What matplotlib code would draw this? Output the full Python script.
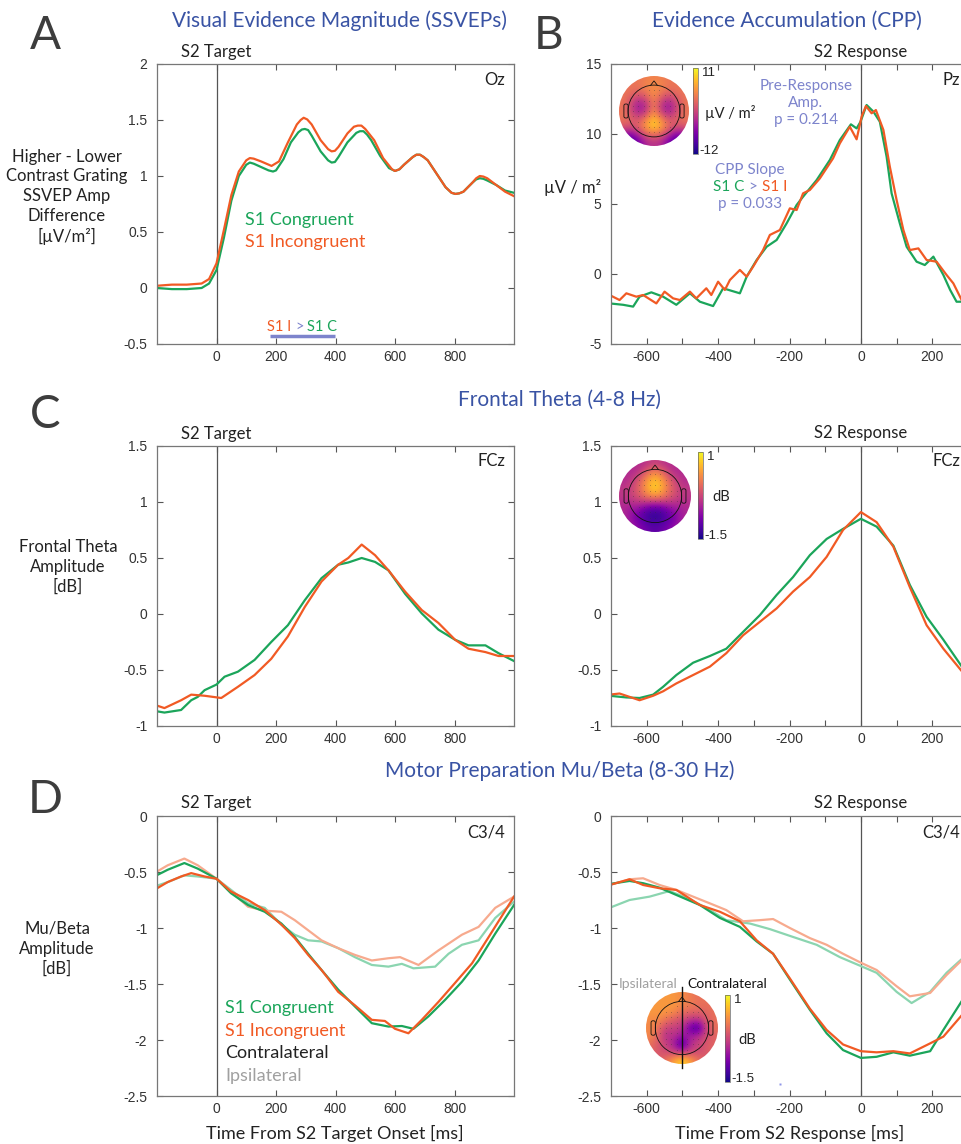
import numpy as np
import matplotlib
matplotlib.use("Agg")
import matplotlib.pyplot as plt
from matplotlib.patches import Circle, Polygon, FancyBboxPatch
from matplotlib.offsetbox import TextArea, HPacker, AnnotationBbox

plt.rcParams['font.family'] = ['Lato', 'DejaVu Sans']
plt.rcParams['axes.unicode_minus'] = False

# ---------------- DATA ----------------
# Panel A: SSVEP (time from S2 target onset)
a_t_con = [-200, -150, -100, -50, -25, 0, 25, 50, 75, 100, 112, 125, 150, 175, 190, 200, 225, 250, 275, 287,
           297, 308, 320, 350, 375, 387, 398, 410, 440, 470, 482, 494, 506, 520, 550, 580, 600, 615, 630, 660,
           672, 684, 696, 710, 740, 770, 790, 803, 816, 830, 860, 873, 885, 897, 910, 940, 970, 1000]
a_v_con = [0.00, -0.01, -0.01, 0.00, 0.04, 0.16, 0.45, 0.78, 1.00, 1.10, 1.12, 1.11, 1.08, 1.05, 1.04, 1.05,
           1.15, 1.30, 1.39, 1.415, 1.42, 1.41, 1.36, 1.22, 1.14, 1.12, 1.125, 1.17, 1.30, 1.385, 1.40, 1.40,
           1.37, 1.32, 1.18, 1.07, 1.045, 1.06, 1.10, 1.17, 1.19, 1.19, 1.17, 1.14, 1.02, 0.90, 0.85, 0.84,
           0.845, 0.86, 0.94, 0.97, 0.98, 0.975, 0.96, 0.92, 0.87, 0.85]
a_t_inc = [-200, -150, -100, -50, -25, 0, 25, 50, 75, 100, 112, 125, 150, 185, 210, 240, 270, 283, 293, 305,
           320, 350, 375, 387, 398, 410, 440, 462, 475, 487, 500, 530, 560, 590, 600, 615, 630, 660, 672, 684,
           696, 710, 740, 770, 790, 803, 816, 830, 860, 873, 885, 897, 910, 940, 970, 1000]
a_v_inc = [0.02, 0.03, 0.03, 0.04, 0.08, 0.22, 0.52, 0.83, 1.04, 1.14, 1.16, 1.155, 1.13, 1.09, 1.13, 1.30,
           1.46, 1.50, 1.52, 1.505, 1.46, 1.32, 1.24, 1.22, 1.225, 1.26, 1.38, 1.44, 1.45, 1.45, 1.42, 1.32,
           1.16, 1.06, 1.045, 1.06, 1.10, 1.17, 1.19, 1.19, 1.17, 1.14, 1.02, 0.90, 0.85, 0.84, 0.845, 0.86,
           0.94, 0.98, 1.00, 0.995, 0.98, 0.92, 0.86, 0.82]
a_sig = [180, 398]

# Panel B: CPP (time from S2 response)
b_t_con = [-704, -666, -638, -620, -587, -554, -517, -479, -451, -414, -386, -339, -320, -292, -264, -236,
           -208, -180, -162, -124, -87, -59, -28, -12, -1, 16, 35, 53, 72, 86, 109, 128, 156, 179, 203, 231,
           250, 268, 285]
b_v_con = [-2.10, -2.20, -2.33, -1.62, -1.31, -1.62, -2.20, -1.38, -1.98, -2.29, -1.02, -1.38, -0.19, 1.00,
           1.95, 2.43, 3.62, 4.93, 5.52, 6.71, 8.14, 9.57, 10.69, 10.40, 10.88, 12.07, 11.60, 10.88, 8.38,
           5.76, 3.62, 1.95, 0.88, 0.64, 1.24, -0.07, -1.14, -1.98, -1.98]
b_t_inc = [-704, -676, -657, -629, -610, -573, -550, -526, -507, -479, -461, -433, -419, -400, -381, -367,
           -339, -320, -302, -274, -255, -227, -199, -180, -162, -143, -115, -78, -59, -31, -12, 2, 14, 30, 42,
           63, 81, 100, 119, 137, 161, 184, 212, 240, 259, 285]
b_v_inc = [-1.50, -1.86, -1.38, -1.62, -1.50, -2.10, -1.26, -1.74, -1.86, -1.26, -1.74, -1.02, -1.50, -0.55,
           -1.14, -0.43, 0.29, -0.19, 0.52, 1.71, 2.79, 3.14, 4.69, 4.57, 5.76, 6.00, 6.83, 8.26, 9.33, 10.52,
           9.62, 11.24, 12.00, 11.48, 11.71, 10.29, 7.67, 5.29, 3.14, 1.71, 1.83, 1.00, 0.88, -0.07, -0.67,
           -2.00]

# Panel C: frontal theta
c1_t = [-209, -175, -119, -85, -63, -40, 0, 27, 72, 128, 184, 240, 297, 353, 409, 443, 488, 533, 578, 634,
        690, 746, 802, 847, 904, 948, 1000]
c1_con = [-0.865, -0.88, -0.857, -0.77, -0.74, -0.68, -0.63, -0.56, -0.515, -0.41, -0.25, -0.10, 0.124, 0.32,
          0.44, 0.46, 0.50, 0.465, 0.39, 0.18, 0.005, -0.14, -0.23, -0.28, -0.28, -0.35, -0.42]
c1_t_inc = [-209, -175, -119, -85, -40, 16, 72, 128, 184, 240, 297, 353, 409, 443, 488, 533, 578, 634, 690,
            746, 802, 847, 904, 948, 1000]
c1_inc = [-0.81, -0.84, -0.77, -0.72, -0.73, -0.75, -0.65, -0.545, -0.40, -0.20, 0.064, 0.29, 0.44, 0.50,
          0.62, 0.525, 0.39, 0.20, 0.035, -0.08, -0.23, -0.31, -0.34, -0.375, -0.375]
c2_t = [-704, -657, -620, -582, -554, -517, -470, -423, -377, -330, -283, -236, -190, -143, -96, -50, 0, 44,
        91, 137, 184, 231, 285]
c2_con = [-0.73, -0.745, -0.75, -0.72, -0.65, -0.545, -0.435, -0.375, -0.31, -0.16, -0.01, 0.17, 0.33, 0.525,
          0.67, 0.76, 0.85, 0.78, 0.61, 0.26, -0.025, -0.23, -0.48]
c2_t_inc = [-704, -676, -620, -582, -554, -517, -470, -423, -377, -330, -283, -236, -190, -143, -96, -50, 0,
            44, 91, 137, 184, 231, 285]
c2_inc = [-0.72, -0.71, -0.77, -0.73, -0.69, -0.62, -0.545, -0.47, -0.35, -0.19, -0.07, 0.05, 0.20, 0.33,
          0.51, 0.75, 0.91, 0.82, 0.60, 0.24, -0.10, -0.31, -0.52]

# Panel D: mu/beta, target-locked
d1_t = [-209, -164, -108, -63, 0, 49, 106, 162, 218, 263, 308, 353, 409, 465, 522, 578, 623, 662, 712, 769,
        825, 881, 937, 1000]
d1_con_contra = [-0.54, -0.48, -0.42, -0.47, -0.56, -0.69, -0.795, -0.855, -0.96, -1.08, -1.23, -1.375,
                 -1.55, -1.70, -1.85, -1.88, -1.875, -1.90, -1.79, -1.64, -1.48, -1.29, -1.05, -0.795]
d1_t_inc = [-209, -164, -119, -85, -40, 0, 49, 106, 162, 218, 263, 308, 353, 375, 409, 465, 522, 566, 600,
            645, 690, 746, 802, 859, 915, 1000]
d1_inc_contra = [-0.66, -0.59, -0.54, -0.51, -0.54, -0.56, -0.675, -0.75, -0.84, -0.97, -1.09, -1.24, -1.375,
                 -1.45, -1.57, -1.69, -1.82, -1.83, -1.90, -1.94, -1.82, -1.66, -1.49, -1.315, -1.08, -0.72]
d1_t_ipsi_con = [-209, -164, -108, -63, 0, 49, 106, 162, 218, 263, 308, 353, 409, 465, 522, 578, 623, 662,
                 735, 780, 825, 881, 937, 1000]
d1_con_ipsi = [-0.63, -0.59, -0.53, -0.54, -0.56, -0.66, -0.78, -0.82, -0.97, -1.06, -1.11, -1.12, -1.18,
               -1.26, -1.33, -1.345, -1.32, -1.36, -1.345, -1.23, -1.15, -1.11, -0.91, -0.765]
d1_t_ipsi_inc = [-209, -164, -108, -63, 0, 49, 106, 162, 218, 263, 308, 353, 409, 465, 522, 578, 617, 679,
                 746, 825, 881, 937, 1000]
d1_inc_ipsi = [-0.51, -0.44, -0.38, -0.44, -0.56, -0.675, -0.81, -0.845, -0.855, -0.93, -1.02, -1.11, -1.18,
               -1.24, -1.29, -1.27, -1.26, -1.33, -1.20, -1.06, -0.99, -0.82, -0.72]

# Panel D: mu/beta, response-locked
d2_t = [-704, -648, -610, -564, -517, -451, -395, -339, -292, -246, -199, -143, -96, -50, 0, 44, 91, 137,
        194, 231, 285]
d2_con_contra = [-0.607, -0.58, -0.60, -0.64, -0.705, -0.795, -0.91, -0.99, -1.12, -1.23, -1.46, -1.73, -1.94,
                 -2.09, -2.16, -2.15, -2.11, -2.14, -2.10, -1.91, -1.64]
d2_inc_contra = [-0.616, -0.565, -0.616, -0.645, -0.66, -0.795, -0.855, -0.94, -1.11, -1.23, -1.45, -1.72,
                 -1.91, -2.04, -2.10, -2.11, -2.10, -2.12, -2.03, -1.97, -1.77]
d2_t_ipsi_con = [-704, -648, -592, -536, -489, -433, -377, -311, -255, -190, -124, -59, 0, 44, 100, 142, 194,
                 240, 285]
d2_con_ipsi = [-0.82, -0.75, -0.72, -0.67, -0.73, -0.82, -0.93, -0.96, -1.01, -1.08, -1.15, -1.26, -1.34,
               -1.40, -1.57, -1.67, -1.57, -1.40, -1.27]
d2_t_ipsi_inc = [-704, -648, -610, -564, -517, -470, -423, -377, -330, -283, -246, -199, -143, -96, -50, 0, 44,
                 100, 137, 194, 240, 285]
d2_inc_ipsi = [-0.616, -0.565, -0.556, -0.616, -0.66, -0.72, -0.78, -0.84, -0.94, -0.93, -0.92, -1.00, -1.09,
               -1.15, -1.23, -1.31, -1.375, -1.52, -1.61, -1.58, -1.42, -1.28]
d2_dot = [-227, -2.39]

# Topographies (9x9 grids, rows top->bottom)
topo_cpp = [[3, 3, 3, 4, 4, 4, 3, 3, 3],
            [3, 3, 3, 4, 5, 4, 3, 3, 3],
            [3, 2, 0, 2, 5, 2, 0, 2, 3],
            [3, 0, -4, -2, 4, -2, -4, 0, 3],
            [3, 0, -4, -2, 5, -2, -4, 0, 3],
            [3, 2, 0, 4, 8, 4, 0, 2, 3],
            [1, 0, 2, 6, 9, 6, 2, 0, 1],
            [-5, -6, -3, 1, 3, 1, -3, -6, -5],
            [-9, -10, -7, -3, -2, -3, -7, -10, -9]]
topo_theta = [[-0.5, -0.5, -0.5, -0.4, -0.3, -0.4, -0.5, -0.5, -0.5],
              [-0.5, -0.5, -0.4, 0.0, 0.3, 0.0, -0.4, -0.5, -0.5],
              [-0.5, -0.4, -0.1, 0.4, 0.7, 0.4, -0.1, -0.4, -0.5],
              [-0.4, -0.3, 0.0, 0.5, 0.8, 0.5, 0.0, -0.3, -0.4],
              [-0.4, -0.3, -0.1, 0.2, 0.4, 0.2, -0.1, -0.3, -0.4],
              [-0.5, -0.5, -0.5, -0.6, -0.7, -0.6, -0.5, -0.5, -0.5],
              [-0.5, -0.7, -0.9, -1.2, -1.3, -1.2, -0.9, -0.7, -0.5],
              [-0.5, -0.7, -1.0, -1.2, -1.3, -1.2, -1.0, -0.7, -0.5],
              [-0.5, -0.6, -0.8, -1.0, -1.1, -1.0, -0.8, -0.6, -0.5]]
topo_beta = [[0.4, 0.4, 0.4, 0.4, 0.3, 0.2, 0.1, 0.1, 0.1],
             [0.4, 0.4, 0.4, 0.4, 0.3, 0.2, 0.1, 0.1, 0.1],
             [0.4, 0.4, 0.4, 0.3, 0.1, 0.0, 0.0, 0.0, 0.1],
             [0.3, 0.3, 0.1, -0.1, -0.2, -0.4, -0.5, -0.1, 0.1],
             [0.3, 0.1, -0.3, -0.3, -0.4, -1.0, -1.3, -0.3, 0.1],
             [0.3, 0.0, -0.5, -0.4, -0.7, -0.6, -0.5, -0.2, 0.0],
             [0.1, -0.1, -0.3, -0.6, -1.3, -0.5, -0.3, -0.1, 0.0],
             [0.0, -0.1, -0.2, -0.3, -0.4, -0.3, -0.2, -0.1, 0.0],
             [-0.1, -0.1, 0.1, 0.5, 0.8, 0.5, 0.1, -0.1, -0.1]]

# ---------------- STYLE ----------------
GREEN = '#1ba55a'
ORANGE = '#f15a24'
LGREEN = '#8bd5b0'
LORANGE = '#f7aa8e'
TBLUE = '#3953a4'
ABLUE = '#7d84cc'
TICKF = 'Liberation Sans'

W, H = 961, 1144
fig = plt.figure(figsize=(W / 100, H / 100), dpi=100)


def rect(l, t, r, b):
    return [l / W, 1 - b / H, (r - l) / W, (b - t) / H]


def fx(px):
    return px / W


def fy(py):
    return 1 - py / H


def fmt(v):
    return ('%g' % v)


def style(ax, xlim, ylim, xticks, yticks, xminor=None):
    ax.set_xlim(xlim)
    ax.set_ylim(ylim)
    ax.set_xticks(xticks)
    ax.set_xticklabels([fmt(v) for v in xticks])
    ax.set_yticks(yticks)
    ax.set_yticklabels([fmt(v) for v in yticks])
    if xminor is not None:
        ax.set_xticks(xminor, minor=True)
    ax.tick_params(which='both', direction='in', length=4, width=0.8, color='#555',
                   top=True, right=True, labelsize=10, labelcolor='#333',
                   labelfontfamily=TICKF)
    ax.tick_params(axis='x', which='both', pad=4)
    ax.tick_params(axis='y', which='both', pad=7)
    for s in ax.spines.values():
        s.set_color('#777')
        s.set_linewidth(0.9)
    ax.axvline(0, color='#555', lw=0.9, zorder=1)


axA = fig.add_axes(rect(157, 64, 514, 344))
axB = fig.add_axes(rect(611, 64, 968, 344))
axC1 = fig.add_axes(rect(157, 446, 514, 726))
axC2 = fig.add_axes(rect(611, 446, 968, 726))
axD1 = fig.add_axes(rect(157, 816, 514, 1096))
axD2 = fig.add_axes(rect(611, 816, 968, 1096))

LT = [0, 200, 400, 600, 800]
RT = [-600, -400, -200, 0, 200]
RM = [-500, -300, -100, 100]
style(axA, (-200, 1000), (-0.5, 2), LT, [-0.5, 0, 0.5, 1, 1.5, 2])
style(axB, (-700, 300), (-5, 15), RT, [-5, 0, 5, 10, 15], RM)
style(axC1, (-200, 1000), (-1, 1.5), LT, [-1, -0.5, 0, 0.5, 1, 1.5])
style(axC2, (-700, 300), (-1, 1.5), RT, [-1, -0.5, 0, 0.5, 1, 1.5], RM)
style(axD1, (-200, 1000), (-2.5, 0), LT, [-2.5, -2, -1.5, -1, -0.5, 0])
style(axD2, (-700, 300), (-2.5, 0), RT, [-2.5, -2, -1.5, -1, -0.5, 0], RM)

LW = 1.6
KW = dict(lw=LW, solid_joinstyle='round')
axA.plot(a_t_con, a_v_con, color=GREEN, **KW)
axA.plot(a_t_inc, a_v_inc, color=ORANGE, **KW)
axA.plot(a_sig, [-0.43, -0.43], color=ABLUE, lw=2.5, solid_capstyle='butt')

axB.plot(b_t_con, b_v_con, color=GREEN, **KW)
axB.plot(b_t_inc, b_v_inc, color=ORANGE, **KW)

axC1.plot(c1_t, c1_con, color=GREEN, **KW)
axC1.plot(c1_t_inc, c1_inc, color=ORANGE, **KW)
axC2.plot(c2_t, c2_con, color=GREEN, **KW)
axC2.plot(c2_t_inc, c2_inc, color=ORANGE, **KW)

axD1.plot(d1_t_ipsi_con, d1_con_ipsi, color=LGREEN, **KW)
axD1.plot(d1_t_ipsi_inc, d1_inc_ipsi, color=LORANGE, **KW)
axD1.plot(d1_t, d1_con_contra, color=GREEN, **KW)
axD1.plot(d1_t_inc, d1_inc_contra, color=ORANGE, **KW)
axD2.plot(d2_t_ipsi_con, d2_con_ipsi, color=LGREEN, **KW)
axD2.plot(d2_t_ipsi_inc, d2_inc_ipsi, color=LORANGE, **KW)
axD2.plot(d2_t, d2_con_contra, color=GREEN, **KW)
axD2.plot(d2_t, d2_inc_contra, color=ORANGE, **KW)
axD2.plot([d2_dot[0]], [d2_dot[1]], 's', ms=2, color='#8f95e8', mec='none')

# ---------------- TEXT ----------------
def T(px, py, s, size=12, color='#222', ha='center', va='center', **kw):
    return fig.text(fx(px), fy(py), s, fontsize=size, color=color, ha=ha, va=va, **kw)


# Titles
T(339, 21, 'Visual Evidence Magnitude (SSVEPs)', 15, TBLUE)
T(787, 21, 'Evidence Accumulation (CPP)', 15, TBLUE)
T(560, 400, 'Frontal Theta (4-8 Hz)', 15, TBLUE)
T(560, 771, 'Motor Preparation Mu/Beta (8-30 Hz)', 15, TBLUE)

# Panel letters
for px, py, s in [(45, 36, 'A'), (549, 36, 'B'), (45, 415, 'C'), (45, 800, 'D')]:
    T(px, py, s, 33, '#3d3d3d')

# Event labels
T(216, 52, 'S2 Target')
T(861, 52, 'S2 Response')
T(216, 434, 'S2 Target')
T(861, 433, 'S2 Response')
T(216, 803, 'S2 Target')
T(861, 803, 'S2 Response')

# Channel labels
T(505, 80, 'Oz', ha='right')
T(960, 80, 'Pz', ha='right')
T(505, 461, 'FCz', ha='right')
T(960, 461, 'FCz', ha='right')
T(505, 832, 'C3/4', ha='right')
T(960, 832, 'C3/4', ha='right')

# Y labels
T(67, 197, 'Higher - Lower\nContrast Grating\nSSVEP Amp\nDifference\n[µV/m²]', 12, linespacing=1.3)
T(573, 188, 'µV / m²', 12)
T(68, 567, 'Frontal Theta\nAmplitude\n[dB]', 12, linespacing=1.3)
T(57, 949, 'Mu/Beta\nAmplitude\n[dB]', 12, linespacing=1.3)

# X labels
T(335, 1133, 'Time From S2 Target Onset [ms]', 13)
T(790, 1133, 'Time From S2 Response [ms]', 13)

# Legends
T(245, 220, 'S1 Congruent', 13, GREEN, ha='left')
T(245, 242, 'S1 Incongruent', 13, ORANGE, ha='left')
T(225, 1008, 'S1 Congruent', 13, GREEN, ha='left')
T(225, 1031, 'S1 Incongruent', 13, ORANGE, ha='left')
T(225, 1053, 'Contralateral', 13, '#222', ha='left')
T(225, 1076, 'Ipsilateral', 13, '#a0a0a0', ha='left')

# Stats annotations
T(806, 103, 'Pre-Response\nAmp.\np = 0.214', 11, ABLUE, linespacing=1.25)
T(750, 170, 'CPP Slope', 11, ABLUE)
T(750, 204, 'p = 0.033', 11, ABLUE)


def multicolor(px, py, parts, size):
    areas = [TextArea(s, textprops=dict(color=c, fontsize=size)) for s, c in parts]
    box = HPacker(children=areas, align='baseline', pad=0, sep=3)
    ab = AnnotationBbox(box, (fx(px), fy(py)), xycoords='figure fraction', frameon=False,
                        box_alignment=(0.5, 0.5), pad=0)
    fig.add_artist(ab)


multicolor(750, 187, [('S1 C', GREEN), ('>', ABLUE), ('S1 I', ORANGE)], 11)
multicolor(302, 327, [('S1 I', ORANGE), ('>', ABLUE), ('S1 C', GREEN)], 10.5)


# ---------------- TOPOGRAPHIES ----------------
def topo(cx, cy, r, grid, vmin, vmax, cb, top_lab, bot_lab, unit, unit_xy, lab_dx=4):
    ax = fig.add_axes(rect(cx - r, cy - r, cx + r, cy + r))
    ax.set_xlim(-1, 1)
    ax.set_ylim(-1, 1)
    ax.axis('off')
    im = ax.imshow(np.array(grid, dtype=float), extent=[-1, 1, -1, 1], origin='upper', cmap='plasma',
                   vmin=vmin, vmax=vmax, interpolation='bicubic')
    im.set_clip_path(Circle((0, 0), 1, transform=ax.transData))
    ax.add_patch(Circle((0, 0), 0.74, fill=False, lw=0.6, ec='#111'))
    ax.add_patch(Polygon([(-0.1, 0.73), (0, 0.86), (0.1, 0.73)], closed=False, fill=False, lw=0.6,
                         ec='#111'))
    for sx in (-1, 1):
        ax.add_patch(FancyBboxPatch((sx * 0.8 - 0.05, -0.19), 0.1, 0.38,
                                    boxstyle='round,pad=0.01,rounding_size=0.05',
                                    fill=False, lw=0.6, ec='#111'))
    gx, gy = np.meshgrid(np.arange(-0.6, 0.61, 0.15), np.arange(-0.6, 0.61, 0.15))
    m = gx ** 2 + gy ** 2 < 0.66 ** 2
    ax.plot(gx[m], gy[m], '.', ms=1.0, color='#333', mec='none')
    cax = fig.add_axes(rect(*cb))
    cbar = fig.colorbar(im, cax=cax, ticks=[])
    cbar.outline.set_linewidth(0.5)
    cbar.outline.set_edgecolor('#666')
    l, t, rr, b = cb
    T(rr + lab_dx, t + 5, top_lab, 9.5, '#222', ha='left', family=TICKF)
    T(rr + 1, b - 3, bot_lab, 9.5, '#222', ha='left', family=TICKF)
    T(unit_xy[0], unit_xy[1], unit, 10.5, '#222', ha='left')
    return ax


topo(654, 111, 35, topo_cpp, -12, 11, (693, 68, 698, 154), '11', '-12', 'µV / m²', (705, 113))
topo(655, 496, 36, topo_theta, -1.5, 1, (698, 452, 703, 539), '1', '-1.5', 'dB', (712, 497))
axt = topo(682, 1028, 36, topo_beta, -1.5, 1, (725, 995, 730, 1082), '1', '-1.5', 'dB', (738, 1040))
fig.add_artist(plt.Line2D([fx(682), fx(682)], [fy(987), fy(1068)], color='#111', lw=1.0))
T(677, 984, 'Ipsilateral', 10, '#a0a0a0', ha='right')
T(687, 984, 'Contralateral', 10, '#111', ha='left')

fig.savefig('out.png', dpi=100)
